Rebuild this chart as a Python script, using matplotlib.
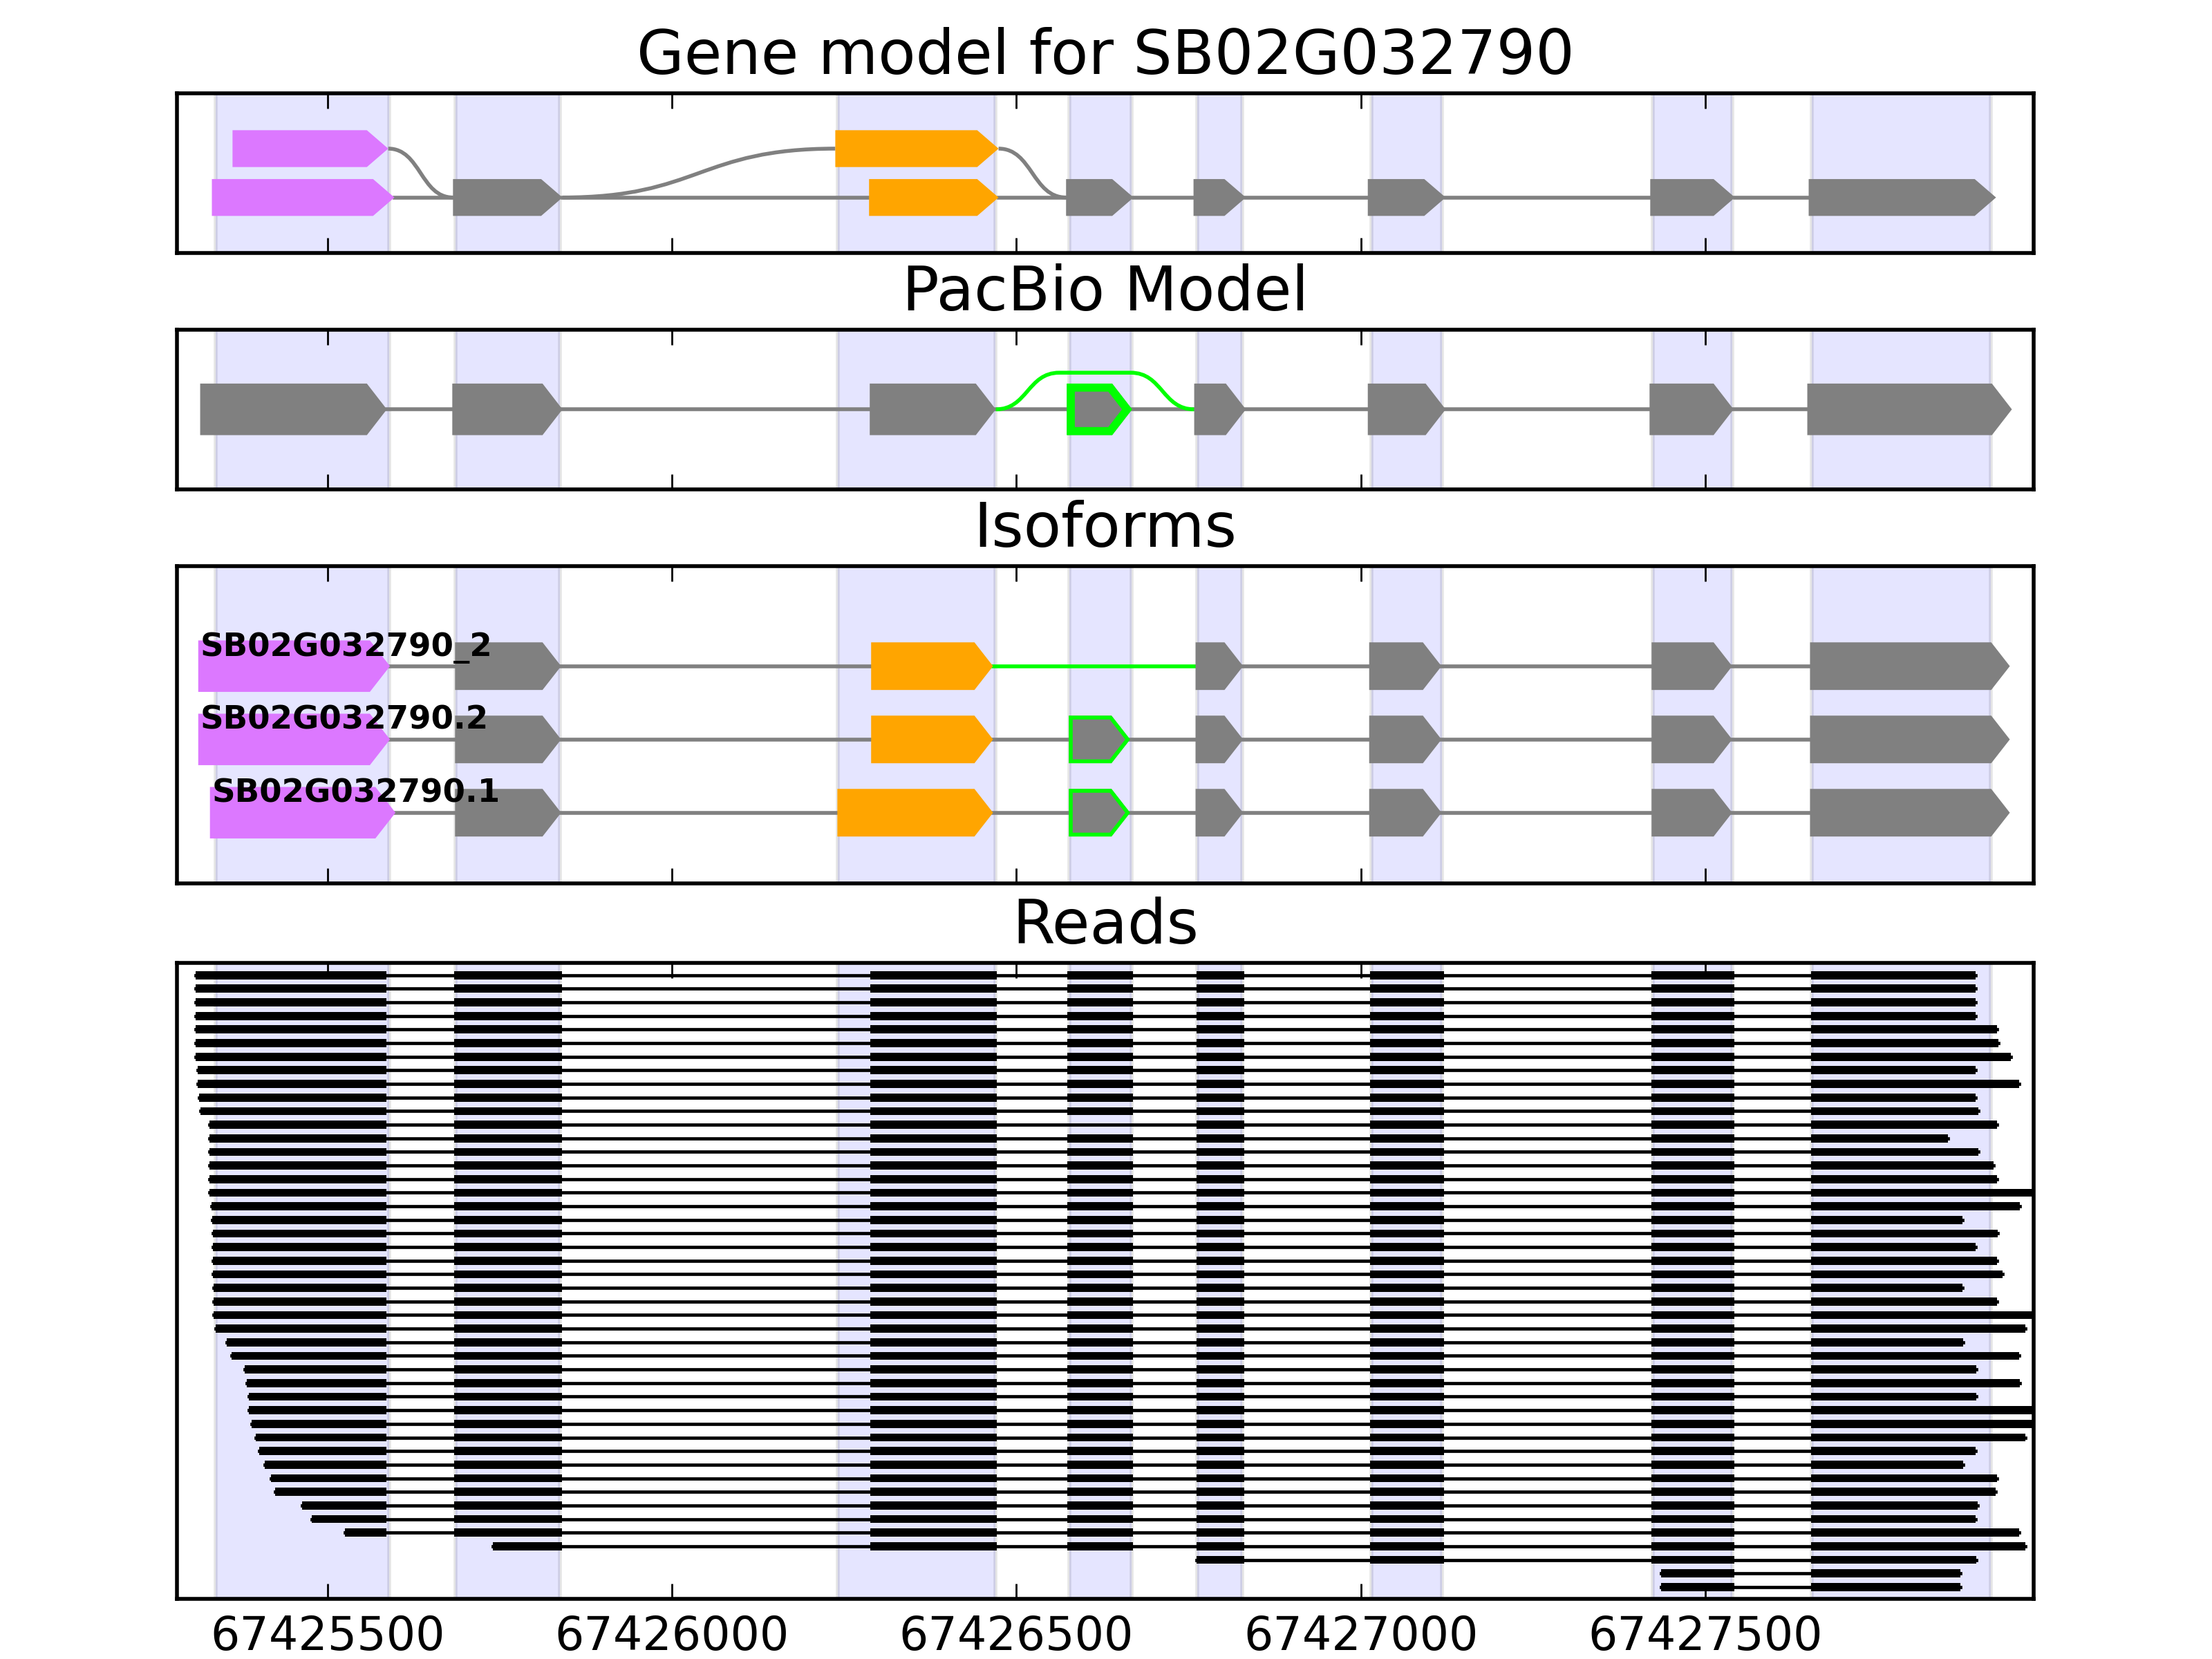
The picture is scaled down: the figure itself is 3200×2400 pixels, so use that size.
import matplotlib
matplotlib.use('Agg')
import matplotlib.pyplot as plt
from matplotlib.patches import Polygon, PathPatch
from matplotlib.path import Path

# ---- data ----
x_lo, x_hi = 67425281, 67427977
tick_pos = [67425500, 67426000, 67426500, 67427000, 67427500]

shade_starts = [67425338, 67425686, 67426241, 67426577, 67426762, 67427015, 67427424, 67427654]
shade_ends = [67425589, 67425837, 67426469, 67426667, 67426828, 67427118, 67427539, 67427914]

MAG = '#dc78ff'

# gene model (splice graph)
gm_starts = [67425362, 67425332, 67425682, 67426237, 67426286, 67426572, 67426757, 67427010, 67427420, 67427650]
gm_ends = [67425588, 67425597, 67425841, 67426474, 67426474, 67426670, 67426833, 67427123, 67427543, 67427922]
gm_rows = [1, 0, 0, 1, 0, 0, 0, 0, 0, 0]
gm_colors = [MAG, MAG, 'gray', 'orange', 'orange', 'gray', 'gray', 'gray', 'gray', 'gray']
gm_links = [(0, 2), (1, 2), (2, 3), (2, 4), (3, 5), (4, 5), (5, 6), (6, 7), (7, 8), (8, 9)]

# PacBio model
pb_starts = [67425315, 67425681, 67426287, 67426573, 67426758, 67427010, 67427419, 67427648]
pb_ends = [67425586, 67425841, 67426470, 67426668, 67426833, 67427123, 67427541, 67427945]
pb_highlight = 3
pb_skip = (2, 4)

# isoforms
iso_names = ['SB02G032790_2', 'SB02G032790.2', 'SB02G032790.1']
iso_starts = [
    [67425315, 67425685, 67426289, 67426760, 67427012, 67427422, 67427652],
    [67425315, 67425685, 67426289, 67426576, 67426760, 67427012, 67427422, 67427652],
    [67425332, 67425685, 67426240, 67426576, 67426760, 67427012, 67427422, 67427652],
]
iso_ends = [
    [67425587, 67425839, 67426466, 67426829, 67427117, 67427539, 67427942],
    [67425587, 67425839, 67426466, 67426665, 67426829, 67427117, 67427539, 67427942],
    [67425595, 67425839, 67426466, 67426665, 67426829, 67427117, 67427539, 67427942],
]
iso_colors = [
    [MAG, 'gray', 'orange', 'gray', 'gray', 'gray', 'gray'],
    [MAG, 'gray', 'orange', 'gray', 'gray', 'gray', 'gray', 'gray'],
    [MAG, 'gray', 'orange', 'gray', 'gray', 'gray', 'gray', 'gray'],
]
iso_green_exon = [None, 3, 3]
iso_green_intron = [2, None, None]

# reads
read_exon_starts = [67425000, 67425684, 67426288, 67426574, 67426761, 67427013, 67427422, 67427653]
read_exon_ends = [67425585, 67425840, 67426471, 67426669, 67426831, 67427121, 67427542, 67429000]
read_starts = [67425308, 67425308, 67425308, 67425308, 67425308, 67425308, 67425308, 67425311,
               67425311, 67425313, 67425315, 67425328, 67425328, 67425328, 67425328, 67425328,
               67425328, 67425331, 67425332, 67425333, 67425334, 67425334, 67425334, 67425335,
               67425335, 67425335, 67425338, 67425354, 67425361, 67425380, 67425383, 67425386,
               67425386, 67425390, 67425396, 67425401, 67425409, 67425418, 67425424, 67425463,
               67425477, 67425525, 67425740, 67426761, 67427436, 67427436]
read_ends = [67427892, 67427892, 67427892, 67427892, 67427923, 67427925, 67427943, 67427892,
             67427956, 67427892, 67427896, 67427923, 67427852, 67427896, 67427918, 67427923,
             67428010, 67427957, 67427873, 67427924, 67427892, 67427923, 67427931, 67427873,
             67427923, 67428010, 67427965, 67427874, 67427956, 67427893, 67427957, 67427893,
             67428010, 67428010, 67427965, 67427892, 67427874, 67427923, 67427921, 67427895,
             67427892, 67427956, 67427965, 67427893, 67427870, 67427870]
reads_skip_exon4 = [11]


def exon(ax, s, e, y, half, head, fc, ec='none', lw=0.0, clip=False, z=3):
    pts = [(s, y - half), (e - head, y - half), (e, y), (e - head, y + half), (s, y + half)]
    p = Polygon(pts, closed=True, facecolor=fc, edgecolor=ec, linewidth=lw, zorder=z)
    ax.add_patch(p)
    if clip:
        p.set_clip_path(p)
    return p


def s_curve(ax, x0, y0, x1, y1, color, lw=1.0):
    xm = (x0 + x1) / 2.0
    path = Path([(x0, y0), (xm, y0), (xm, y1), (x1, y1)],
                [Path.MOVETO, Path.CURVE4, Path.CURVE4, Path.CURVE4])
    ax.add_patch(PathPatch(path, facecolor='none', edgecolor=color, linewidth=lw, zorder=2))


def hump(ax, x0, x1, y0, h, color, lw=1.0):
    d = (x1 - x0) * 0.32
    verts = [(x0, y0), (x0 + d / 2, y0), (x0 + d / 2, y0 + h), (x0 + d, y0 + h),
             (x1 - d, y0 + h),
             (x1 - d / 2, y0 + h), (x1 - d / 2, y0), (x1, y0)]
    codes = [Path.MOVETO, Path.CURVE4, Path.CURVE4, Path.CURVE4, Path.LINETO,
             Path.CURVE4, Path.CURVE4, Path.CURVE4]
    ax.add_patch(PathPatch(Path(verts, codes), facecolor='none', edgecolor=color,
                           linewidth=lw, zorder=2))


def setup(ax, title, ylim, labels=False):
    for s, e in zip(shade_starts, shade_ends):
        ax.axvspan(s, e, facecolor='blue', edgecolor='black', linewidth=1.0, alpha=0.1, zorder=0)
    ax.set_xlim(x_lo, x_hi)
    ax.set_ylim(*ylim)
    ax.set_yticks([])
    ax.set_xticks(tick_pos)
    if labels:
        ax.set_xticklabels([str(t) for t in tick_pos])
    else:
        ax.set_xticklabels([])
    ax.tick_params(axis='x', direction='in', top=True, bottom=True, length=4, width=0.5,
                   labelsize=12, pad=4)
    for sp in ax.spines.values():
        sp.set_linewidth(1.0)
    ax.set_title(title, fontsize=16, pad=5)


fig = plt.figure(figsize=(8, 6), dpi=400)
left, width = 0.0799, 0.8396
ax1 = fig.add_axes([left, 0.8475, width, 0.09625])
ax2 = fig.add_axes([left, 0.70513, width, 0.09625])
ax3 = fig.add_axes([left, 0.4675, width, 0.19125])
ax4 = fig.add_axes([left, 0.03625, width, 0.38354])

# gene model
setup(ax1, 'Gene model for SB02G032790', (-1.136, 2.132))
for a, b in gm_links:
    x0, y0 = gm_ends[a], gm_rows[a]
    x1, y1 = gm_starts[b], gm_rows[b]
    if y0 == y1:
        ax1.plot([x0, x1], [y0, y1], color='gray', lw=1.0, zorder=2)
    else:
        s_curve(ax1, x0, y0, x1, y1, 'gray')
for s, e, r, c in zip(gm_starts, gm_ends, gm_rows, gm_colors):
    exon(ax1, s, e, r, 0.377, 31, c)

# PacBio model
setup(ax2, 'PacBio Model', (-1, 1))
ax2.plot([pb_ends[0], pb_starts[-1]], [0, 0], color='gray', lw=1.0, zorder=2)
hump(ax2, pb_ends[pb_skip[0]], pb_starts[pb_skip[1]], 0, 0.459, 'lime')
for i, (s, e) in enumerate(zip(pb_starts, pb_ends)):
    if i == pb_highlight:
        exon(ax2, s, e, 0, 0.323, 29, 'gray', ec='lime', lw=4.2, clip=True)
    else:
        exon(ax2, s, e, 0, 0.323, 29, 'gray')

# isoforms
setup(ax3, 'Isoforms', (-0.965, 3.365))
for k in range(len(iso_names)):
    y = 2 - k
    st, en, cols = iso_starts[k], iso_ends[k], iso_colors[k]
    for j in range(len(st) - 1):
        col = 'lime' if iso_green_intron[k] == j else 'gray'
        ax3.plot([en[j], st[j + 1]], [y, y], color=col, lw=1.0, zorder=2)
    for j, (s, e, c) in enumerate(zip(st, en, cols)):
        if j == iso_green_exon[k]:
            exon(ax3, s, e, y, 0.325, 27, c, ec='lime', lw=2.0, clip=True)
        elif c == MAG:
            exon(ax3, s, e, y, 0.325, 27, c, ec=c, lw=1.0)
        else:
            exon(ax3, s, e, y, 0.325, 27, c)
    ax3.text(st[0], y + 0.14, iso_names[k], fontsize=8.4, fontweight='bold',
             ha='left', va='baseline', zorder=5)

# reads
setup(ax4, 'Reads', (45.87, -0.925), labels=True)
for i, (rs, re) in enumerate(zip(read_starts, read_ends)):
    ax4.plot([rs, re], [i, i], color='black', lw=0.85, zorder=2)
    blocks = []
    for j, (es, ee) in enumerate(zip(read_exon_starts, read_exon_ends)):
        if j == 3 and i in reads_skip_exon4:
            continue
        s, e = max(es, rs), min(ee, re)
        if e > s:
            blocks.append((s, e - s))
    ax4.broken_barh(blocks, (i - 0.3, 0.6), facecolors='black', zorder=3)

fig.savefig('out.png', dpi=400)
